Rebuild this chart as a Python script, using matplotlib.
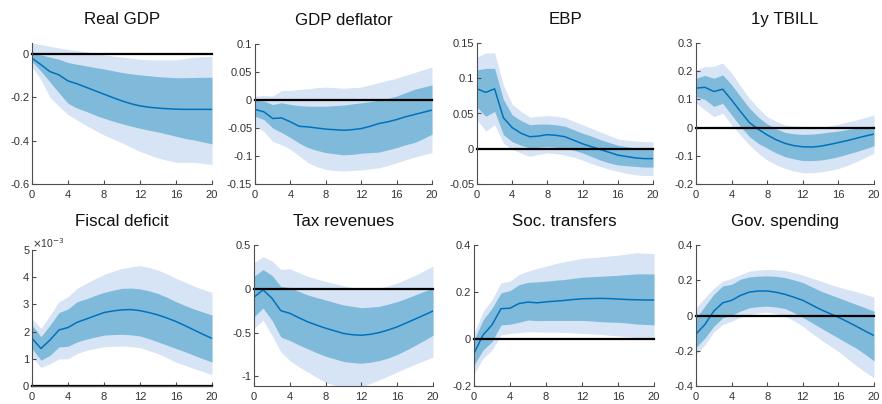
import matplotlib
matplotlib.use("Agg")
import matplotlib.pyplot as plt
from matplotlib.ticker import FuncFormatter
import numpy as np

# ------------------------------------------------------------
# Impulse responses: median, 68% band, 90% band (horizons 0..20)
# ------------------------------------------------------------
horizon = np.arange(21)

titles = ['Real GDP', 'GDP deflator', 'EBP', '1y TBILL',
          'Fiscal deficit', 'Tax revenues', 'Soc. transfers', 'Gov. spending']

gdp_med = [-0.02, -0.05, -0.082, -0.097, -0.125, -0.138, -0.154, -0.17, -0.186, -0.202, -0.217,
           -0.23, -0.24, -0.246, -0.25, -0.253, -0.255, -0.256, -0.256, -0.256, -0.256]
gdp_in_hi = [0.01, -0.005, -0.015, -0.025, -0.04, -0.048, -0.055, -0.063, -0.07, -0.078, -0.086,
             -0.092, -0.097, -0.101, -0.105, -0.108, -0.11, -0.11, -0.109, -0.108, -0.108]
gdp_in_lo = [-0.035, -0.08, -0.13, -0.18, -0.228, -0.25, -0.265, -0.282, -0.297, -0.31, -0.322,
             -0.333, -0.343, -0.352, -0.36, -0.37, -0.38, -0.39, -0.397, -0.406, -0.415]
gdp_out_hi = [0.05, 0.042, 0.035, 0.027, 0.02, 0.015, 0.01, 0.003, -0.005, -0.01, -0.015,
              -0.02, -0.025, -0.027, -0.028, -0.028, -0.027, -0.022, -0.015, -0.013, -0.012]
gdp_out_lo = [-0.06, -0.12, -0.2, -0.243, -0.28, -0.305, -0.33, -0.352, -0.374, -0.392, -0.41,
              -0.43, -0.45, -0.465, -0.48, -0.49, -0.5, -0.5, -0.5, -0.505, -0.51]

defl_med = [-0.017, -0.021, -0.033, -0.032, -0.039, -0.047, -0.048, -0.05, -0.052, -0.053, -0.054,
            -0.053, -0.051, -0.047, -0.042, -0.039, -0.035, -0.03, -0.026, -0.022, -0.018]
defl_in_hi = [0.0, -0.002, -0.008, -0.005, -0.008, -0.01, -0.011, -0.011, -0.011, -0.01, -0.009,
              -0.007, -0.005, -0.003, 0.0, 0.003, 0.007, 0.013, 0.019, 0.023, 0.027]
defl_in_lo = [-0.029, -0.035, -0.05, -0.058, -0.067, -0.077, -0.085, -0.09, -0.094, -0.096, -0.098,
              -0.097, -0.095, -0.094, -0.093, -0.089, -0.085, -0.08, -0.076, -0.069, -0.061]
defl_out_hi = [0.007, 0.008, 0.007, 0.017, 0.017, 0.019, 0.02, 0.022, 0.023, 0.022, 0.021,
               0.022, 0.023, 0.027, 0.031, 0.035, 0.039, 0.044, 0.049, 0.054, 0.059]
defl_out_lo = [-0.047, -0.056, -0.074, -0.08, -0.088, -0.1, -0.112, -0.119, -0.124, -0.126, -0.127,
               -0.126, -0.125, -0.123, -0.121, -0.117, -0.112, -0.107, -0.102, -0.098, -0.094]

ebp_med = [0.085, 0.08, 0.085, 0.044, 0.03, 0.022, 0.017, 0.018, 0.02, 0.019, 0.017,
           0.012, 0.007, 0.003, -0.001, -0.005, -0.009, -0.011, -0.013, -0.014, -0.014]
ebp_in_hi = [0.112, 0.114, 0.114, 0.07, 0.048, 0.04, 0.034, 0.035, 0.035, 0.034, 0.032,
             0.027, 0.022, 0.018, 0.013, 0.009, 0.005, 0.003, 0.001, 0.001, 0.001]
ebp_in_lo = [0.059, 0.046, 0.053, 0.02, 0.01, 0.005, 0.001, 0.002, 0.003, 0.002, 0.001,
             -0.002, -0.006, -0.011, -0.016, -0.02, -0.023, -0.024, -0.025, -0.026, -0.026]
ebp_out_hi = [0.13, 0.136, 0.136, 0.09, 0.063, 0.053, 0.045, 0.046, 0.047, 0.046, 0.044,
              0.039, 0.034, 0.029, 0.024, 0.019, 0.014, 0.012, 0.011, 0.01, 0.01]
ebp_out_lo = [0.041, 0.025, 0.034, 0.008, -0.001, -0.006, -0.011, -0.008, -0.006, -0.007, -0.009,
              -0.012, -0.016, -0.021, -0.025, -0.029, -0.032, -0.035, -0.037, -0.038, -0.038]

tb_med = [0.14, 0.143, 0.128, 0.136, 0.098, 0.057, 0.018, -0.006, -0.026, -0.043, -0.056,
          -0.064, -0.068, -0.069, -0.066, -0.06, -0.053, -0.046, -0.038, -0.03, -0.023]
tb_in_hi = [0.175, 0.185, 0.175, 0.187, 0.152, 0.11, 0.069, 0.037, 0.013, -0.004, -0.017,
            -0.022, -0.024, -0.023, -0.02, -0.016, -0.012, -0.007, -0.002, 0.002, 0.006]
tb_in_lo = [0.11, 0.1, 0.075, 0.086, 0.045, 0.004, -0.032, -0.056, -0.073, -0.09, -0.103,
            -0.111, -0.117, -0.117, -0.115, -0.11, -0.103, -0.094, -0.085, -0.075, -0.064]
tb_out_hi = [0.203, 0.217, 0.217, 0.229, 0.193, 0.148, 0.104, 0.069, 0.039, 0.022, 0.009,
             0.006, 0.004, 0.002, 0.0, 0.006, 0.012, 0.02, 0.027, 0.036, 0.045]
tb_out_lo = [0.086, 0.063, 0.039, 0.051, 0.009, -0.026, -0.062, -0.091, -0.115, -0.132, -0.145,
             -0.154, -0.16, -0.16, -0.157, -0.152, -0.145, -0.134, -0.121, -0.106, -0.091]

# fiscal deficit in units of 1e-3
fd_med = [1.75, 1.38, 1.69, 2.06, 2.15, 2.34, 2.46, 2.58, 2.7, 2.76, 2.8,
          2.81, 2.77, 2.7, 2.61, 2.5, 2.37, 2.22, 2.06, 1.9, 1.75]
fd_in_hi = [2.24, 1.81, 2.24, 2.7, 2.83, 3.1, 3.2, 3.33, 3.44, 3.52, 3.59,
            3.6, 3.57, 3.5, 3.4, 3.26, 3.1, 2.96, 2.83, 2.72, 2.61]
fd_in_lo = [1.38, 0.95, 1.13, 1.44, 1.46, 1.62, 1.72, 1.8, 1.87, 1.89, 1.9,
            1.88, 1.84, 1.74, 1.62, 1.5, 1.38, 1.26, 1.13, 1.0, 0.88]
fd_out_hi = [2.48, 2.12, 2.6, 3.1, 3.28, 3.59, 3.77, 3.94, 4.1, 4.22, 4.32,
             4.38, 4.42, 4.36, 4.26, 4.12, 3.96, 3.82, 3.67, 3.55, 3.44]
fd_out_lo = [1.07, 0.68, 0.82, 1.0, 1.0, 1.19, 1.31, 1.38, 1.44, 1.46, 1.47,
             1.45, 1.41, 1.3, 1.19, 1.04, 0.88, 0.76, 0.64, 0.53, 0.42]

tax_med = [-0.096, -0.012, -0.108, -0.25, -0.28, -0.33, -0.377, -0.415, -0.45, -0.48, -0.51,
           -0.525, -0.53, -0.52, -0.5, -0.47, -0.435, -0.39, -0.346, -0.3, -0.254]
tax_in_hi = [0.142, 0.22, 0.154, 0.027, 0.015, -0.03, -0.07, -0.1, -0.127, -0.157, -0.185,
             -0.2, -0.215, -0.21, -0.2, -0.175, -0.146, -0.11, -0.07, -0.03, 0.008]
tax_in_lo = [-0.32, -0.22, -0.358, -0.55, -0.59, -0.64, -0.685, -0.73, -0.77, -0.8, -0.83,
             -0.842, -0.85, -0.838, -0.82, -0.79, -0.75, -0.7, -0.646, -0.59, -0.53]
tax_out_hi = [0.3, 0.365, 0.32, 0.22, 0.23, 0.185, 0.142, 0.112, 0.085, 0.06, 0.035,
              0.015, 0.0, 0.004, 0.008, 0.035, 0.065, 0.11, 0.154, 0.205, 0.258]
tax_out_lo = [-0.454, -0.358, -0.53, -0.72, -0.82, -0.89, -0.95, -1.01, -1.07, -1.1, -1.13,
              -1.14, -1.12, -1.08, -1.04, -0.995, -0.95, -0.905, -0.86, -0.82, -0.78]

soc_med = [-0.061, 0.017, 0.06, 0.129, 0.131, 0.151, 0.157, 0.154, 0.158, 0.161, 0.164,
           0.168, 0.171, 0.172, 0.173, 0.172, 0.17, 0.168, 0.167, 0.166, 0.166]
soc_in_hi = [-0.004, 0.081, 0.131, 0.196, 0.206, 0.231, 0.241, 0.243, 0.246, 0.25, 0.253,
             0.258, 0.263, 0.265, 0.267, 0.269, 0.271, 0.274, 0.277, 0.277, 0.277]
soc_in_lo = [-0.111, -0.047, -0.011, 0.06, 0.063, 0.071, 0.081, 0.078, 0.079, 0.079, 0.079,
             0.079, 0.079, 0.077, 0.074, 0.072, 0.071, 0.068, 0.064, 0.062, 0.06]
soc_out_hi = [0.024, 0.117, 0.167, 0.239, 0.246, 0.274, 0.289, 0.3, 0.31, 0.32, 0.329,
              0.336, 0.343, 0.346, 0.349, 0.353, 0.357, 0.362, 0.367, 0.365, 0.364]
soc_out_lo = [-0.147, -0.083, -0.047, 0.017, 0.024, 0.027, 0.031, 0.03, 0.029, 0.029, 0.028,
              0.026, 0.024, 0.022, 0.02, 0.016, 0.013, 0.01, 0.006, 0.004, 0.003]

gov_med = [-0.105, -0.051, 0.025, 0.072, 0.086, 0.114, 0.133, 0.139, 0.139, 0.132, 0.12,
           0.104, 0.086, 0.06, 0.034, 0.012, -0.01, -0.035, -0.061, -0.088, -0.114]
gov_in_hi = [-0.013, 0.053, 0.12, 0.168, 0.177, 0.206, 0.219, 0.223, 0.225, 0.222, 0.215,
             0.202, 0.187, 0.163, 0.139, 0.12, 0.101, 0.082, 0.063, 0.044, 0.025]
gov_in_lo = [-0.181, -0.128, -0.061, -0.013, 0.002, 0.025, 0.044, 0.05, 0.053, 0.048, 0.04,
             0.016, -0.01, -0.04, -0.07, -0.099, -0.128, -0.157, -0.185, -0.22, -0.257]
gov_out_hi = [0.044, 0.101, 0.154, 0.196, 0.21, 0.232, 0.252, 0.258, 0.261, 0.259, 0.255,
              0.243, 0.229, 0.212, 0.196, 0.178, 0.162, 0.148, 0.135, 0.12, 0.105]
gov_out_lo = [-0.223, -0.166, -0.093, -0.051, -0.032, -0.01, 0.006, 0.014, 0.019, 0.01, -0.004,
              -0.03, -0.061, -0.1, -0.137, -0.17, -0.204, -0.244, -0.284, -0.32, -0.354]

series = [
    (gdp_med, gdp_in_lo, gdp_in_hi, gdp_out_lo, gdp_out_hi),
    (defl_med, defl_in_lo, defl_in_hi, defl_out_lo, defl_out_hi),
    (ebp_med, ebp_in_lo, ebp_in_hi, ebp_out_lo, ebp_out_hi),
    (tb_med, tb_in_lo, tb_in_hi, tb_out_lo, tb_out_hi),
    (fd_med, fd_in_lo, fd_in_hi, fd_out_lo, fd_out_hi),
    (tax_med, tax_in_lo, tax_in_hi, tax_out_lo, tax_out_hi),
    (soc_med, soc_in_lo, soc_in_hi, soc_out_lo, soc_out_hi),
    (gov_med, gov_in_lo, gov_in_hi, gov_out_lo, gov_out_hi),
]

y_limits = [(-0.6, 0.05), (-0.15, 0.1), (-0.05, 0.15), (-0.2, 0.3),
            (0, 5), (-1.11, 0.5), (-0.2, 0.4), (-0.4, 0.4)]
y_ticks = [[-0.6, -0.4, -0.2, 0],
           [-0.15, -0.1, -0.05, 0, 0.05, 0.1],
           [-0.05, 0, 0.05, 0.1, 0.15],
           [-0.2, -0.1, 0, 0.1, 0.2, 0.3],
           [0, 1, 2, 3, 4, 5],
           [-1, -0.5, 0, 0.5],
           [-0.2, 0, 0.2, 0.4],
           [-0.4, -0.2, 0, 0.2, 0.4]]
x_ticks = [0, 4, 8, 12, 16, 20]

# ------------------------------------------------------------
# Style
# ------------------------------------------------------------
plt.rcParams['font.family'] = ['Liberation Sans', 'DejaVu Sans']
plt.rcParams['axes.unicode_minus'] = False

COL_LINE = '#0072BD'
COL_INNER = '#80BADA'
COL_OUTER = '#D6E4F5'
COL_AXIS = '#4D4D4D'

W, H = 882, 404
fig = plt.figure(figsize=(W / 100, H / 100), dpi=100)

# axes boxes in pixels: left, top, right, bottom
boxes = [(32, 43, 212, 184), (255, 44, 432, 184), (477, 43, 653, 184), (696, 43, 874, 184),
         (32, 250, 212, 386), (254, 245, 433, 386), (474, 245, 654, 386), (696, 245, 874, 386)]

fmt = FuncFormatter(lambda v, p: '%g' % round(v, 4))

for i, (title, data) in enumerate(zip(titles, series)):
    l, t, r, b = boxes[i]
    ax = fig.add_axes([l / W, 1 - b / H, (r - l) / W, (b - t) / H])
    med, in_lo, in_hi, out_lo, out_hi = data

    ax.fill_between(horizon, out_lo, out_hi, color=COL_OUTER, lw=0)
    ax.fill_between(horizon, in_lo, in_hi, color=COL_INNER, lw=0)
    ax.plot(horizon, med, color=COL_LINE, lw=1.1)
    ax.axhline(0, color='black', lw=1.6, clip_on=False)

    ax.set_xlim(0, 20)
    ax.set_ylim(*y_limits[i])
    ax.set_xticks(x_ticks)
    ax.set_yticks(y_ticks[i])
    ax.yaxis.set_major_formatter(fmt)

    for s in ['top', 'right']:
        ax.spines[s].set_visible(False)
    for s in ['left', 'bottom']:
        ax.spines[s].set_color(COL_AXIS)
        ax.spines[s].set_linewidth(0.8)
    ax.tick_params(direction='in', length=3, width=0.8, colors=COL_AXIS,
                   labelsize=8, labelcolor='#333333', pad=2)
    ax.tick_params(axis='x', pad=4)
    # titles of the second row share one baseline
    pad = 14 + (t - 245) * 0.72 if i >= 4 else 14
    ax.set_title(title, fontsize=12.2, pad=pad, color='#111111')

    if title == 'Fiscal deficit':
        ax.text(0.0, 1.0, r'$\times$10$^{-3}$', transform=ax.transAxes,
                fontsize=7.5, color='#333333', ha='left', va='bottom')

fig.savefig('out.png', dpi=100)
